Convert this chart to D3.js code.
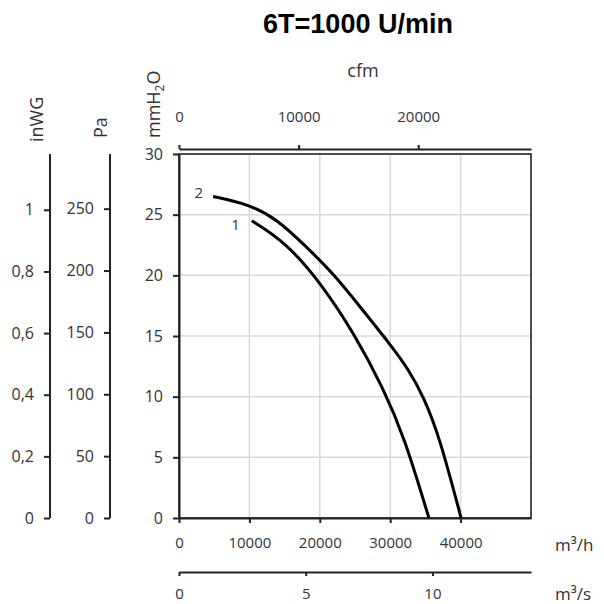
<!DOCTYPE html>
<html>
<head>
<meta charset="utf-8">
<script src="https://cdn.jsdelivr.net/npm/d3@7"></script>
<style>
  body { margin: 0; background: #fff; }
  svg text { font-family: "Open Sans", sans-serif; fill: #333; }
</style>
</head>
<body>
<svg id="chart" width="604" height="604"></svg>
<script>
// fan curves, flow in m3/h vs static pressure in mmH2O
const curve1 = [
  [10340, 24.5], [15000, 22.8], [20000, 19.5], [25000, 15.1], [29000, 10.7],
  [32000, 6.7], [35500, 0]
];
const curve2 = [
  [4840, 26.5], [10000, 25.85], [14000, 24.6], [18000, 22.4], [22000, 20.1],
  [26000, 17.2], [30000, 14.3], [32500, 12.35], [34750, 10.0], [37000, 6.7], [40070, 0]
];
const curveNames = ["1", "2"];

const flowTicks = [0, 10000, 20000, 30000, 40000];   // m3/h
const cfmTicks = [0, 10000, 20000];
const m3sTicks = [0, 5, 10];
const mmTicks = [0, 5, 10, 15, 20, 25, 30];
const paTicks = [0, 50, 100, 150, 200, 250];
const inwgTicks = [0, 0.2, 0.4, 0.6, 0.8, 1];

const svg = d3.select("#chart");

// plot box
const pLeft = 179, pRight = 531, pTop = 154, pBottom = 518;

const x = d3.scaleLinear().domain([0, 50000]).range([pLeft, pRight]);
const y = d3.scaleLinear().domain([0, 30]).range([pBottom, pTop]);

// other units derived from the main ones
const xCfm = d3.scaleLinear().domain([0, 50000 / 1.699011]).range([pLeft, pRight]);
const xM3s = d3.scaleLinear().domain([0, 50000 / 3600]).range([pLeft, pRight]);
const yPa = d3.scaleLinear().domain([0, 30 * 9.80665]).range([pBottom, pTop]);
const yInwg = d3.scaleLinear().domain([0, 30 / 25.4]).range([pBottom, pTop]);

// title
svg.append("text")
  .attr("x", 358).attr("y", 33)
  .attr("text-anchor", "middle")
  .style("font-family", "'Liberation Sans', Arial, sans-serif")
  .style("font-weight", "bold")
  .style("font-size", "27px")
  .style("fill", "#000")
  .text("6T=1000 U/min");

// grid
const grid = svg.append("g").attr("stroke", "#d9d9d9").attr("stroke-width", 1.5);
grid.selectAll("line.v").data(flowTicks.slice(1)).join("line")
  .attr("x1", d => x(d)).attr("x2", d => x(d))
  .attr("y1", pTop).attr("y2", pBottom);
grid.selectAll("line.h").data(mmTicks.slice(1, -1)).join("line")
  .attr("x1", pLeft).attr("x2", pRight)
  .attr("y1", d => y(d)).attr("y2", d => y(d));

// frame
svg.append("rect")
  .attr("x", pLeft).attr("y", pTop)
  .attr("width", pRight - pLeft).attr("height", pBottom - pTop)
  .attr("fill", "none").attr("stroke", "#222").attr("stroke-width", 1.6);

function styleAxis(g, size) {
  g.selectAll("path, line").attr("stroke", "#222").attr("stroke-width", 2);
  g.selectAll("text")
    .style("font-family", "'Open Sans', sans-serif")
    .style("font-size", size || "15px")
    .attr("fill", "#3a3a3a");
}
const fmtComma = d => String(d).replace(".", ",");

// bottom m3/h axis
svg.append("g").attr("transform", `translate(0,${pBottom})`)
  .call(d3.axisBottom(x).tickValues(flowTicks).tickSize(5).tickSizeOuter(0).tickPadding(14).tickFormat(d3.format("d")))
  .call(g => styleAxis(g));

// m3/s axis
svg.append("g").attr("transform", "translate(0,572)")
  .call(d3.axisBottom(xM3s).tickValues(m3sTicks).tickSize(4).tickSizeOuter(0).tickPadding(12))
  .call(g => styleAxis(g));

// cfm axis on top
svg.append("g").attr("transform", "translate(0,149)")
  .call(d3.axisTop(xCfm).tickValues(cfmTicks).tickSize(4).tickSizeOuter(0).tickPadding(23).tickFormat(d3.format("d")))
  .call(g => styleAxis(g));

// mmH2O axis
svg.append("g").attr("transform", `translate(${pLeft},0)`)
  .call(d3.axisLeft(y).tickValues(mmTicks).tickSize(6).tickSizeOuter(0).tickPadding(10))
  .call(g => styleAxis(g, "16px"));

// Pa axis
svg.append("g").attr("transform", "translate(110,0)")
  .call(d3.axisLeft(yPa).tickValues(paTicks).tickSize(6).tickSizeOuter(0).tickPadding(10))
  .call(g => styleAxis(g, "16px"))
  .call(g => g.select(".domain").attr("d", `M0,${pTop}V${pBottom}`));

// inWG axis
svg.append("g").attr("transform", "translate(50,0)")
  .call(d3.axisLeft(yInwg).tickValues(inwgTicks).tickSize(6).tickSizeOuter(0).tickPadding(10).tickFormat(fmtComma))
  .call(g => styleAxis(g, "16px"))
  .call(g => g.select(".domain").attr("d", `M0,${pTop}V${pBottom}`));

// unit titles
function vTitle(xp, yp, build) {
  const t = svg.append("text")
    .attr("transform", `translate(${xp},${yp}) rotate(-90)`)
    .style("font-size", "18px");
  build(t);
}
vTitle(43, 142, t => t.text("inWG"));
vTitle(107, 138, t => t.text("Pa"));
vTitle(160, 138, t => {
  t.append("tspan").text("mmH");
  t.append("tspan").attr("dy", 4).style("font-size", "12px").text("2");
  t.append("tspan").attr("dy", -4).text("O");
});
svg.append("text").attr("x", 363).attr("y", 77).attr("text-anchor", "middle")
  .style("font-size", "18px").text("cfm");
svg.append("text").attr("x", 555).attr("y", 551)
  .style("font-size", "17px").text("m³/h");
svg.append("text").attr("x", 555).attr("y", 600)
  .style("font-size", "17px").text("m³/s");

// curves (smoothed through the read-off points)
const line = d3.line().x(d => x(d[0])).y(d => y(d[1])).curve(d3.curveBasis);
svg.append("g").selectAll("path")
  .data([curve1, curve2]).join("path")
  .attr("d", line)
  .attr("fill", "none").attr("stroke", "#000").attr("stroke-width", 3);

// curve numbers by the start of each curve
const labelShift = [[-12, 9], [-10, 2]];
svg.append("g").selectAll("text")
  .data([curve1, curve2]).join("text")
  .attr("x", (d, i) => x(d[0][0]) + labelShift[i][0])
  .attr("y", (d, i) => y(d[0][1]) + labelShift[i][1])
  .attr("text-anchor", "end")
  .style("font-size", "15px")
  .text((d, i) => curveNames[i]);
</script>
</body>
</html>
